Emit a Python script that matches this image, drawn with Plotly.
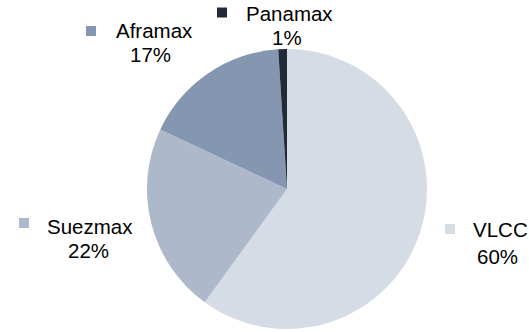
import plotly.graph_objects as go

# Fleet share by tanker class
categories = ["VLCC", "Suezmax", "Aframax", "Panamax"]
shares = [60, 22, 17, 1]

colors = ["#D6DCE5", "#ADB9CA", "#8496B0", "#222A35"]

W, H = 529, 332
CX, CY, R = 287, 189, 140  # pie centre and radius, px

# Label layout (px): name centre, percent centre, key square centre
label_pos = {
    "VLCC":    dict(name=(500, 230), pct=(497, 256.5), key=(450, 229)),
    "Suezmax": dict(name=(90, 226.5), pct=(88, 250), key=(24, 223)),
    "Aframax": dict(name=(154, 30.5), pct=(150, 54.5), key=(91, 31)),
    "Panamax": dict(name=(289, 13.5), pct=(287, 38), key=(222, 12.5)),
}

def px(x):
    return x / W

def py(y):
    return (H - y) / H

FONT = dict(family="Liberation Sans, Arial, sans-serif", size=20.5, color="#000000")

fig = go.Figure(
    go.Pie(
        labels=categories,
        values=shares,
        marker=dict(colors=colors, line=dict(width=0)),
        sort=False,
        direction="clockwise",
        rotation=0,
        textinfo="none",
        hoverinfo="skip",
        showlegend=False,
        domain=dict(x=[px(CX - R), px(CX + R)], y=[py(CY + R), py(CY - R)]),
    )
)

annotations = []
shapes = []
total = sum(shares)
for cat, val, col in zip(categories, shares, colors):
    pos = label_pos[cat]
    annotations.append(dict(
        x=px(pos["name"][0]), y=py(pos["name"][1]), xref="paper", yref="paper",
        text=cat, showarrow=False, xanchor="center", yanchor="middle", font=FONT,
    ))
    annotations.append(dict(
        x=px(pos["pct"][0]), y=py(pos["pct"][1]), xref="paper", yref="paper",
        text=f"{val / total * 100:.0f}%", showarrow=False,
        xanchor="center", yanchor="middle", font=FONT,
    ))
    kx, ky = pos["key"]
    shapes.append(dict(
        type="rect", xref="paper", yref="paper",
        x0=px(kx - 5), x1=px(kx + 5), y0=py(ky + 5), y1=py(ky - 5),
        fillcolor=col, line=dict(width=0),
    ))

fig.update_layout(
    width=W, height=H,
    margin=dict(l=0, r=0, t=0, b=0),
    paper_bgcolor="#FFFFFF",
    plot_bgcolor="#FFFFFF",
    annotations=annotations,
    shapes=shapes,
)

fig.write_html("out.html")
